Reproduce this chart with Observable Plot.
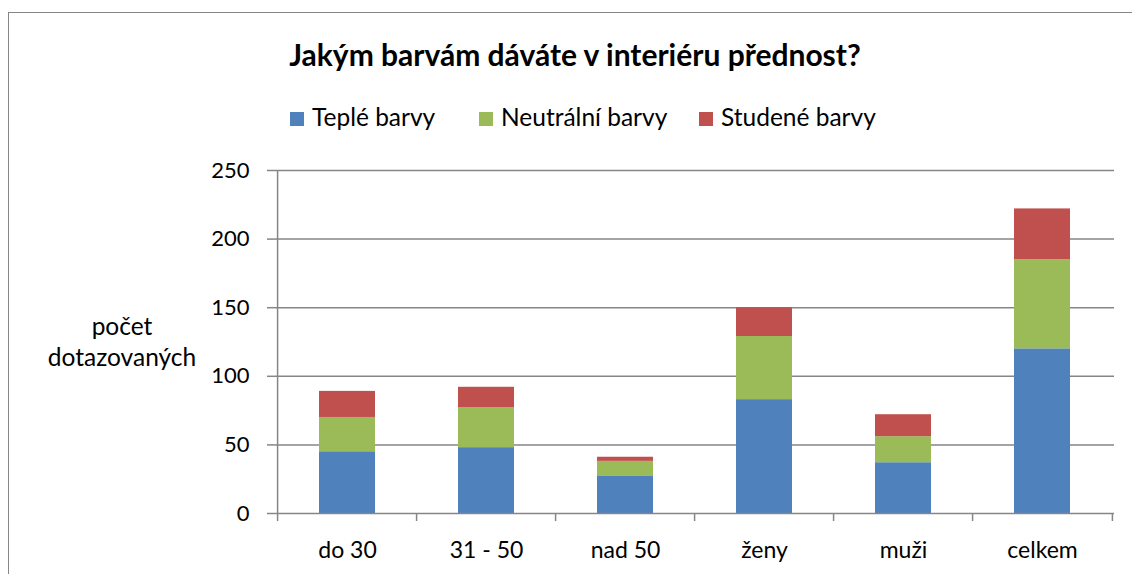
<!DOCTYPE html>
<html>
<head>
<meta charset="utf-8">
<script src="https://cdn.jsdelivr.net/npm/d3@7"></script>
<script src="https://cdn.jsdelivr.net/npm/@observablehq/plot@0.6"></script>
<style>
  html, body { margin: 0; padding: 0; background: #fff; }
  #wrap { position: relative; width: 1132px; height: 574px; overflow: hidden; font-family: Lato, "Open Sans", sans-serif; color: #000; }
  #frame { position: absolute; left: 8px; top: 12px; width: 1200px; height: 700px; border-left: 1.5px solid #868686; border-top: 1.5px solid #868686; box-sizing: border-box; }
  #title { position: absolute; left: 0; width: 1150px; top: 36px; text-align: center; font-weight: bold; font-size: 30px; line-height: 36px; white-space: nowrap; }
  .leg { position: absolute; top: 104px; font-size: 24.5px; line-height: 26px; white-space: nowrap; }
  .sw { display: inline-block; width: 14px; height: 14px; margin-right: 8px; vertical-align: 0px; }
  #ylab { position: absolute; left: 20px; width: 204px; top: 310px; text-align: center; font-size: 24.5px; line-height: 31px; }
  #chart { position: absolute; left: 0; top: 150px; }
</style>
</head>
<body>
<div id="wrap">
  <div id="frame"></div>
  <div id="title"></div>
  <div id="legend"></div>
  <div id="ylab"></div>
  <div id="chart"></div>
</div>
<script>
const chartTitle = "Jakým barvám dáváte v interiéru přednost?";
const yLabelLines = ["počet", "dotazovaných"];
const categories = ["do 30", "31 - 50", "nad 50", "ženy", "muži", "celkem"];
const series = ["Teplé barvy", "Neutrální barvy", "Studené barvy"];
const teple = [45, 48, 27, 83, 37, 120];
const neutralni = [25, 29, 11, 46, 19, 65];
const studene = [19, 15, 3, 21, 16, 37];
const colors = ["#4f81bd", "#9bbb59", "#c0504d"];
const yTicks = [0, 50, 100, 150, 200, 250];
const legendLeft = [290, 479, 699];

document.getElementById("title").textContent = chartTitle;
document.getElementById("ylab").innerHTML = yLabelLines.join("<br>");
const legend = document.getElementById("legend");
series.forEach((s, i) => {
  const d = document.createElement("div");
  d.className = "leg";
  d.style.left = legendLeft[i] + "px";
  const sw = document.createElement("span");
  sw.className = "sw";
  sw.style.background = colors[i];
  d.appendChild(sw);
  d.appendChild(document.createTextNode(s));
  legend.appendChild(d);
});

const values = [teple, neutralni, studene];
const data = categories.flatMap((c, i) => series.map((s, j) => ({cat: c, s, v: values[j][i]})));

const W = 1132, H = 424, mL = 275, mR = 18, mT = 20, mB = 61;
const step = (W - mL - mR) / categories.length;
const gridColor = "#868686";

const chart = Plot.plot({
  width: W, height: H,
  marginLeft: mL, marginRight: mR, marginTop: mT, marginBottom: mB,
  style: {fontFamily: "Lato, 'Open Sans', sans-serif", fontSize: "20px", color: "#000", background: "transparent", overflow: "visible"},
  x: {domain: categories, paddingInner: 0.6, paddingOuter: 0.3, axis: null, label: null},
  y: {domain: [0, 250], axis: null, label: null},
  color: {domain: series, range: colors},
  marks: [
    Plot.ruleY(yTicks.filter(d => d > 0), {stroke: gridColor, strokeWidth: 1.5}),
    Plot.barY(data, {x: "cat", y: "v", fill: "s"}),
    Plot.ruleY([0], {stroke: gridColor, strokeWidth: 1.5}),
    Plot.ruleX(categories.slice(0, 1), {x: d => d, dx: -step / 2, y1: 0, y2: 250, stroke: gridColor, strokeWidth: 1.5}),
    Plot.axisY({ticks: yTicks, tickSize: 8, tickPadding: 18, stroke: gridColor, strokeWidth: 1.5, fill: "#000", tickFormat: d => String(d), fontSize: 22, label: null}),
    Plot.axisX({ticks: categories, tickSize: 8, dx: -step / 2, stroke: gridColor, strokeWidth: 1.5, tickFormat: () => "", label: null}),
    Plot.axisX({ticks: categories.slice(-1), tickSize: 8, dx: step / 2, stroke: gridColor, strokeWidth: 1.5, tickFormat: () => "", label: null}),
    Plot.axisX({ticks: categories, tickSize: 0, tickPadding: 28, fill: "#000", fontSize: 23, label: null})
  ]
});
document.getElementById("chart").appendChild(chart);
</script>
</body>
</html>
